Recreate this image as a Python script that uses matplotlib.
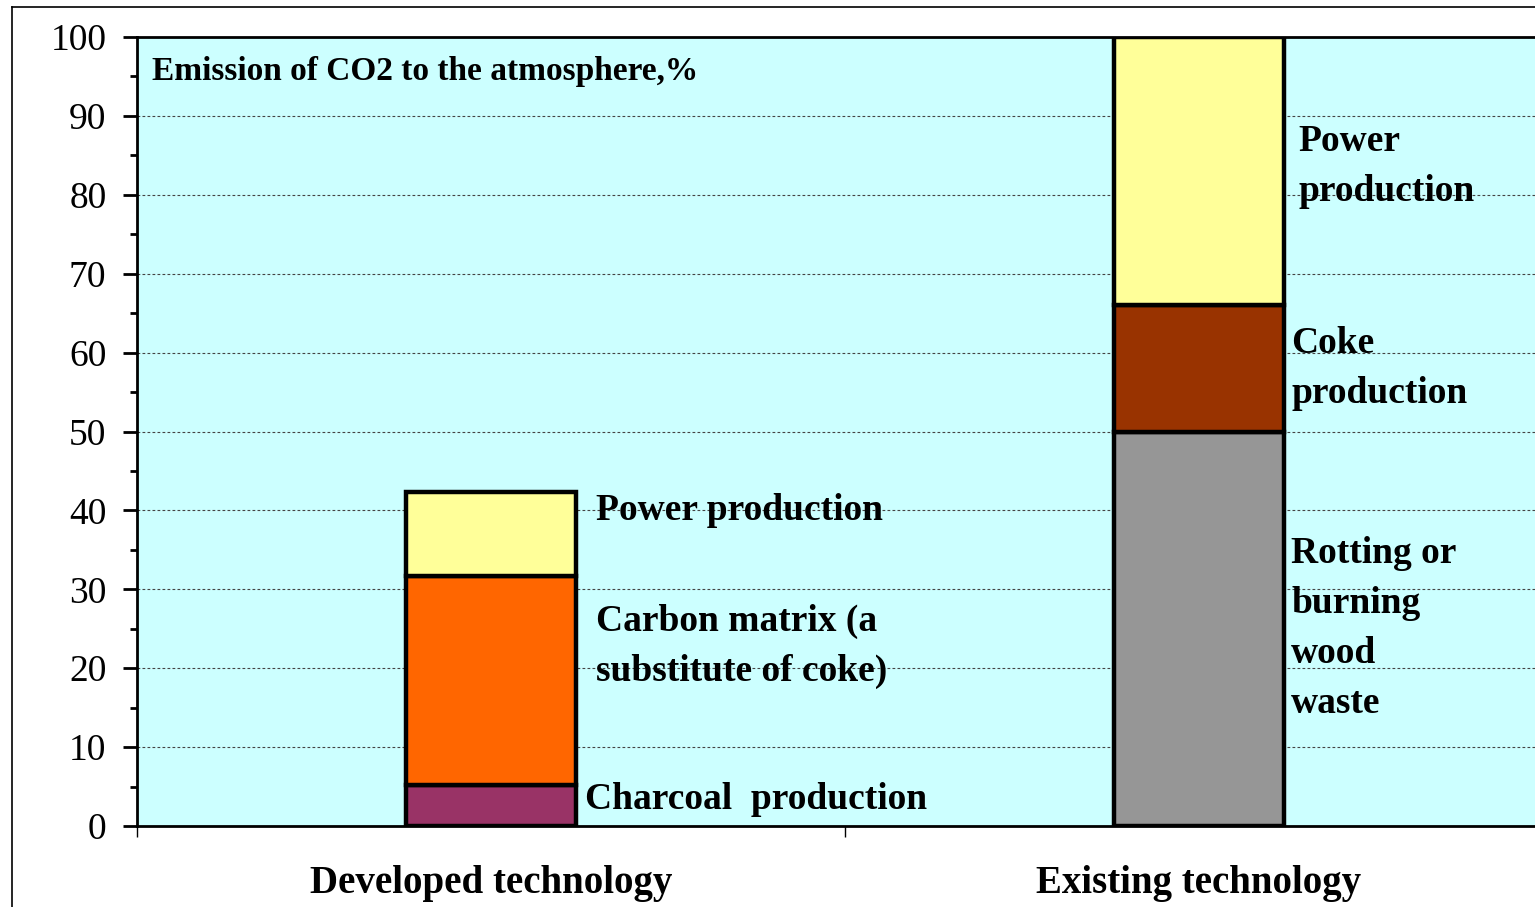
import matplotlib.pyplot as plt
from matplotlib.lines import Line2D

# Data (% of CO2 emission)
categories = ["Developed technology", "Existing technology"]
developed = {"Charcoal production": 5.2, "Carbon matrix": 26.5, "Power production": 10.6}
existing = {"Rotting or burning wood waste": 50, "Coke production": 16, "Power production": 34}

dev_colors = ["#993366", "#FF6600", "#FFFF99"]
ex_colors = ["#969696", "#993300", "#FFFF99"]

yticks = list(range(0, 101, 10))

plt.rcParams['font.family'] = ['Liberation Serif', 'DejaVu Serif']

fig = plt.figure(figsize=(15.35, 9.07), dpi=100)
ax = fig.add_axes([137 / 1535, 81 / 907, 1416 / 1535, 789 / 907])
ax.set_facecolor("#CCFFFF")

width = 0.24
# Stacked bars
for xpos, series, cols in [(0, developed, dev_colors), (1, existing, ex_colors)]:
    bottom = 0
    for (name, val), c in zip(series.items(), cols):
        ax.bar(xpos, val, width, bottom=bottom, color=c, edgecolor="black",
               linewidth=3.2, zorder=3)
        bottom += val

ax.set_xlim(-0.5, 1.5)
ax.set_ylim(0, 100)
ax.set_yticks(yticks)
ax.set_yticklabels([str(t) for t in yticks], fontsize=27)
ax.set_yticks(range(5, 100, 10), minor=True)
ax.tick_params(axis='y', which='major', length=10, width=2, pad=12, direction='out')
ax.tick_params(axis='y', which='minor', length=5, width=2, direction='out')

ax.set_xticks([0, 1])
ax.set_xticklabels(categories, fontsize=28, fontweight='bold')
ax.tick_params(axis='x', which='major', length=0, pad=28)
ax.set_xticks([-0.5, 0.5, 1.5], minor=True)
ax.tick_params(axis='x', which='minor', length=8, width=1, direction='out')

ax.set_axisbelow(True)
ax.yaxis.grid(True, color="#444444", linestyle=(0, (2.5, 2)), linewidth=0.8)
for s in ax.spines.values():
    s.set_linewidth(2)
    s.set_color("black")

# Labels inside the plot
fs = 27
ls = 1.55
ax.text(-0.479, 95.6, "Emission of CO2 to the atmosphere,%", fontsize=24,
        fontweight='bold', va='center', ha='left')
ax.text(0.148, 40.0, "Power production", fontsize=fs, fontweight='bold', va='center')
ax.text(0.148, 22.7, "Carbon matrix (a\nsubstitute of coke)", fontsize=fs,
        fontweight='bold', va='center', linespacing=ls)
ax.text(0.133, 3.4, "Charcoal  production", fontsize=fs, fontweight='bold', va='center')
ax.text(1.141, 83.6, "Power\nproduction", fontsize=fs, fontweight='bold',
        va='center', linespacing=ls)
ax.text(1.130, 58.0, "Coke\nproduction", fontsize=fs, fontweight='bold',
        va='center', linespacing=ls)
ax.text(1.130, 25.0, "Rotting or\nburning\nwood\nwaste", fontsize=fs,
        fontweight='bold', va='center', linespacing=ls)

# Outer frame (clipped at right and bottom)
fx, fy = 12 / 1535, 900 / 907
fig.add_artist(Line2D([fx, fx], [0, fy], color="black", lw=1.2))
fig.add_artist(Line2D([fx, 1], [fy, fy], color="black", lw=1.2))

fig.savefig("out.png", dpi=100)
